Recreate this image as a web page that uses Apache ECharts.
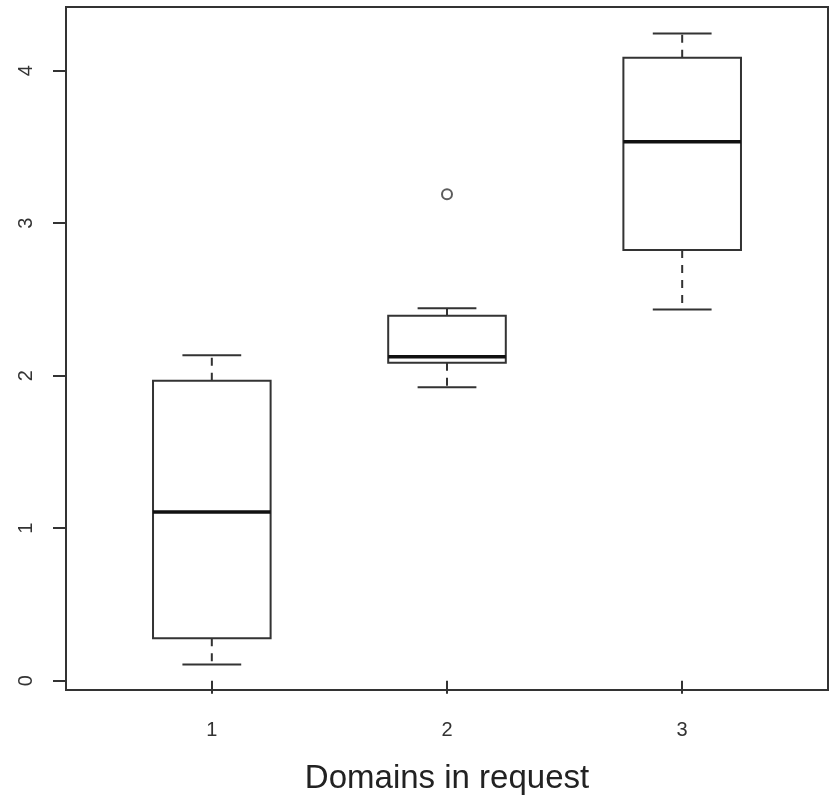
<!DOCTYPE html>
<html>
<head>
<meta charset="utf-8">
<script src="https://cdn.jsdelivr.net/npm/echarts@6/dist/echarts.min.js"></script>
<style>
  html, body { margin: 0; padding: 0; background: #fff; }
  #main { width: 830px; height: 797px; }
</style>
</head>
<body>
<div id="main"></div>
<script>
// data
var groups = [1, 2, 3];
var lowerWhisker = [0.107, 1.924, 2.435];
var lowerQuart = [0.278, 2.085, 2.824];
var medians = [1.106, 2.125, 3.534];
var upperQuart = [1.967, 2.393, 4.085];
var upperWhisker = [2.134, 2.442, 4.245];
var outliers = [[2, 3.19]];
var xTicks = [1, 2, 3];
var yTicks = [0, 1, 2, 3, 4];

var boxData = groups.map(function (g, i) {
  return [g, lowerWhisker[i], lowerQuart[i], medians[i], upperQuart[i], upperWhisker[i]];
});

var lineCol = '#333';

function renderBox(params, api) {
  var x = api.value(0);
  var lo = api.coord([x, api.value(1)]);
  var q1 = api.coord([x, api.value(2)]);
  var md = api.coord([x, api.value(3)]);
  var q3 = api.coord([x, api.value(4)]);
  var hi = api.coord([x, api.value(5)]);
  var boxW = api.size([0.5, 0])[0];
  var capW = api.size([0.25, 0])[0];
  var cx = lo[0];
  var solid = { stroke: lineCol, lineWidth: 2, fill: null };
  var dashed = { stroke: lineCol, lineWidth: 2, lineDash: [8, 7] };
  return {
    type: 'group',
    children: [
      { type: 'line', shape: { x1: cx, y1: q1[1], x2: cx, y2: lo[1] }, style: dashed },
      { type: 'line', shape: { x1: cx, y1: q3[1], x2: cx, y2: hi[1] }, style: dashed },
      { type: 'line', shape: { x1: cx - capW / 2, y1: lo[1], x2: cx + capW / 2, y2: lo[1] }, style: solid },
      { type: 'line', shape: { x1: cx - capW / 2, y1: hi[1], x2: cx + capW / 2, y2: hi[1] }, style: solid },
      { type: 'rect', shape: { x: cx - boxW / 2, y: q3[1], width: boxW, height: q1[1] - q3[1] },
        style: { stroke: lineCol, lineWidth: 2, fill: '#fff' } },
      { type: 'line', shape: { x1: cx - boxW / 2, y1: md[1], x2: cx + boxW / 2, y2: md[1] },
        style: { stroke: '#111', lineWidth: 3.5 } }
    ]
  };
}

var myChart = echarts.init(document.getElementById('main'));
var option = {
  backgroundColor: '#fff',
  animation: false,
  grid: {
    left: 66, right: 2, top: 7, bottom: 107,
    outerBoundsMode: 'none',
    show: true, borderColor: lineCol, borderWidth: 2
  },
  xAxis: {
    type: 'value',
    min: 0.38,
    max: 3.62,
    name: 'Domains in request',
    nameLocation: 'middle',
    nameGap: 72,
    nameTextStyle: { fontFamily: 'Liberation Sans', fontSize: 33, color: '#222' },
    axisLine: { show: false },
    splitLine: { show: false },
    axisTick: { show: true, length: 13, customValues: xTicks, lineStyle: { color: lineCol, width: 2 } },
    axisLabel: { customValues: xTicks, margin: 30, fontFamily: 'Liberation Sans', fontSize: 20, color: '#333' }
  },
  yAxis: {
    type: 'value',
    min: -0.061,
    max: 4.418,
    axisLine: { show: false },
    splitLine: { show: false },
    axisTick: { show: true, length: 13, customValues: yTicks, lineStyle: { color: lineCol, width: 2 } },
    axisLabel: { customValues: yTicks, rotate: 90, margin: 30, fontFamily: 'Liberation Sans', fontSize: 20, color: '#333' }
  },
  series: [
    {
      type: 'custom',
      renderItem: renderBox,
      encode: { x: 0, y: [1, 2, 3, 4, 5] },
      data: boxData
    },
    {
      type: 'scatter',
      symbol: 'circle',
      symbolSize: 10,
      itemStyle: { color: '#fff', borderColor: lineCol, borderWidth: 2 },
      data: outliers
    }
  ]
};
myChart.setOption(option);
</script>
</body>
</html>
